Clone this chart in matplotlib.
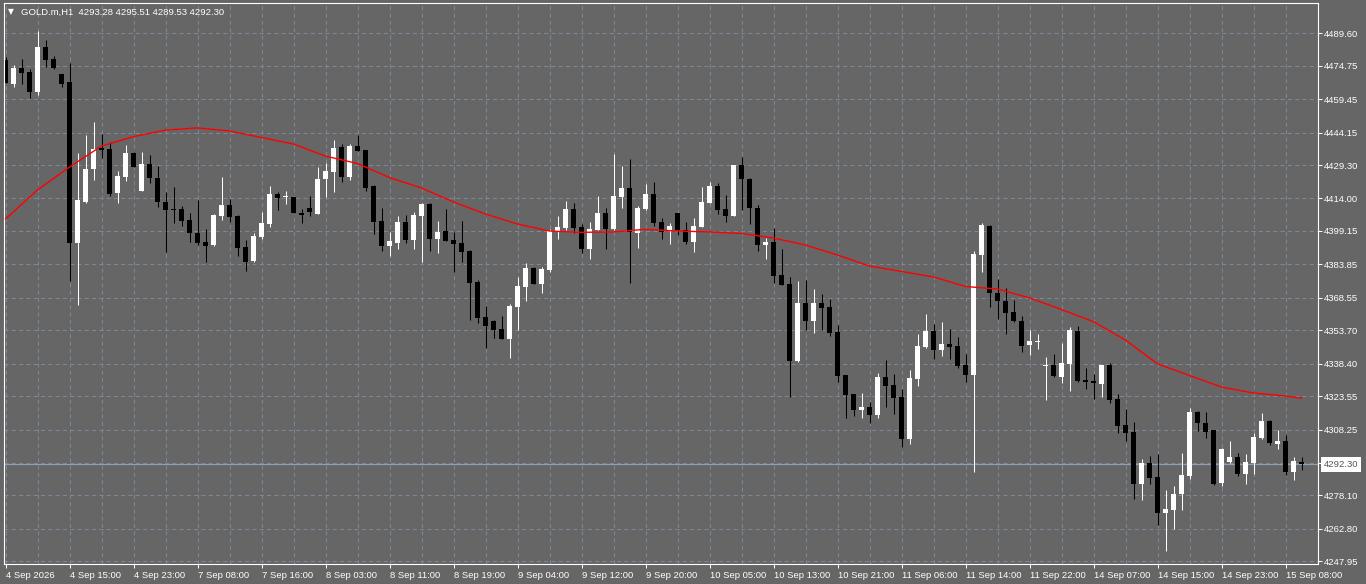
import matplotlib
matplotlib.use('Agg')
import matplotlib.pyplot as plt
import numpy as np

# GOLD.m H1 candles, 4 Sep 2026 07:00 .. 15 Sep 08:00
opens = [4477.4, 4466.4, 4473.9, 4472.0, 4462.7, 4483.2, 4477.8, 4471.0, 4467.5, 4393.8,
         4412.5, 4427.5, 4437.0, 4436.7, 4416.4, 4424.0, 4435.0, 4417.6, 4429.8, 4423.2,
         4412.5, 4409.2, 4409.2, 4404.2, 4398.3, 4394.2, 4392.6, 4406.0, 4411.0, 4406.0,
         4391.9, 4385.4, 4396.5, 4402.3, 4416.1, 4414.5, 4414.7, 4407.2, 4409.6, 4407.0,
         4422.9, 4426.3, 4437.6, 4424.0, 4438.0, 4436.2, 4419.9, 4403.7, 4392.4, 4393.8,
         4403.2, 4395.0, 4406.1, 4411.5, 4395.6, 4399.1, 4395.0, 4393.5, 4390.0, 4375.6,
         4359.8, 4357.9, 4354.1, 4349.7, 4364.5, 4373.6, 4382.3, 4374.9, 4381.3, 4398.5,
         4400.4, 4409.2, 4401.0, 4390.7, 4399.6, 4407.4, 4400.0, 4414.7, 4418.8, 4398.3,
         4409.2, 4416.1, 4403.1, 4399.1, 4407.4, 4399.6, 4394.2, 4400.8, 4412.1, 4419.9,
         4409.2, 4406.1, 4429.3, 4423.1, 4409.6, 4392.7, 4394.1, 4379.0, 4374.9, 4339.8,
         4366.0, 4357.9, 4366.0, 4364.2, 4352.8, 4333.2, 4324.5, 4317.2, 4318.4, 4314.9,
         4332.2, 4328.6, 4323.0, 4303.9, 4331.4, 4345.9, 4353.4, 4344.7, 4347.4, 4346.5,
         4337.8, 4333.2, 4388.1, 4401.4, 4370.6, 4367.1, 4361.9, 4357.9, 4346.9, 4348.2,
         4337.3, 4337.8, 4332.4, 4338.3, 4353.4, 4330.9, 4330.5, 4329.1, 4337.8, 4322.2,
         4310.3, 4307.0, 4283.3, 4293.1, 4286.5, 4270.2, 4271.4, 4278.8, 4287.0, 4316.4,
         4311.4, 4308.0, 4283.7, 4293.4, 4295.6, 4287.9, 4293.1, 4304.4, 4312.2, 4301.6,
         4303.0, 4288.8, 4293.28]
highs = [4478.8, 4475.1, 4477.8, 4473.1, 4490.7, 4486.5, 4479.2, 4471.0, 4475.9, 4434.7,
         4443.1, 4449.0, 4443.5, 4440.0, 4426.6, 4438.5, 4435.1, 4435.1, 4433.9, 4429.0,
         4416.8, 4419.4, 4410.6, 4407.5, 4413.3, 4399.9, 4406.8, 4424.0, 4413.8, 4406.4,
         4395.0, 4398.3, 4407.7, 4419.7, 4417.0, 4417.6, 4414.8, 4409.2, 4415.1, 4428.3,
         4430.1, 4440.8, 4439.1, 4438.8, 4443.2, 4436.2, 4420.2, 4409.8, 4398.7, 4406.0,
         4406.3, 4408.0, 4411.9, 4411.8, 4403.8, 4409.1, 4398.5, 4403.8, 4390.4, 4376.7,
         4364.8, 4358.4, 4360.2, 4365.7, 4378.2, 4384.3, 4382.8, 4382.8, 4399.9, 4406.0,
         4412.9, 4411.8, 4402.2, 4403.2, 4415.3, 4409.5, 4434.4, 4428.9, 4431.9, 4410.6,
         4420.6, 4421.5, 4405.2, 4402.6, 4407.4, 4403.4, 4405.1, 4419.4, 4421.4, 4421.2,
         4415.6, 4429.3, 4433.1, 4423.4, 4411.0, 4395.8, 4400.4, 4390.9, 4378.2, 4376.2,
         4376.7, 4372.6, 4370.3, 4367.9, 4356.1, 4333.2, 4324.5, 4324.8, 4320.7, 4334.3,
         4340.1, 4333.7, 4326.8, 4335.5, 4352.0, 4361.1, 4356.6, 4357.3, 4354.1, 4350.5,
         4342.8, 4390.0, 4402.9, 4401.9, 4377.2, 4373.2, 4367.5, 4360.0, 4353.8, 4352.0,
         4341.6, 4342.8, 4347.7, 4355.0, 4355.6, 4336.3, 4333.5, 4337.8, 4338.8, 4324.5,
         4317.7, 4311.8, 4294.8, 4296.1, 4297.1, 4280.6, 4282.4, 4297.7, 4318.0, 4316.7,
         4316.4, 4308.0, 4299.7, 4303.1, 4297.4, 4297.1, 4306.5, 4316.0, 4312.6, 4308.0,
         4305.8, 4295.6, 4295.51]
lows = [4466.9, 4465.2, 4466.4, 4460.1, 4461.4, 4474.3, 4473.3, 4465.2, 4376.4, 4365.3,
        4412.1, 4422.5, 4432.4, 4415.1, 4412.1, 4422.1, 4428.5, 4417.5, 4421.0, 4410.0,
        4389.6, 4402.9, 4401.4, 4394.2, 4392.7, 4385.1, 4392.3, 4404.2, 4403.4, 4387.8,
        4381.0, 4385.1, 4395.3, 4401.1, 4408.7, 4411.5, 4407.2, 4402.9, 4406.1, 4407.0,
        4414.8, 4417.1, 4421.4, 4422.5, 4435.9, 4417.6, 4397.8, 4390.1, 4387.8, 4390.7,
        4393.8, 4390.9, 4384.8, 4390.1, 4389.2, 4394.7, 4380.5, 4385.1, 4358.4, 4356.9,
        4345.7, 4350.0, 4349.7, 4341.1, 4353.8, 4367.1, 4374.9, 4370.6, 4380.5, 4395.3,
        4399.6, 4398.3, 4388.9, 4386.2, 4399.6, 4390.7, 4399.6, 4409.8, 4375.2, 4391.5,
        4408.7, 4401.4, 4395.5, 4393.2, 4397.3, 4393.2, 4389.6, 4400.8, 4412.1, 4406.8,
        4403.4, 4406.1, 4408.7, 4402.2, 4390.0, 4386.4, 4375.3, 4374.4, 4323.0, 4339.0,
        4353.8, 4352.6, 4353.8, 4351.2, 4329.9, 4313.7, 4314.6, 4313.7, 4311.4, 4313.4,
        4318.7, 4315.4, 4300.4, 4301.6, 4328.2, 4345.4, 4340.5, 4342.1, 4340.5, 4336.6,
        4329.9, 4289.0, 4380.5, 4364.5, 4358.8, 4351.8, 4357.6, 4343.9, 4342.4, 4345.3,
        4321.8, 4332.2, 4329.7, 4326.0, 4330.2, 4326.8, 4322.2, 4323.3, 4320.5, 4306.8,
        4303.1, 4276.5, 4276.0, 4283.3, 4264.6, 4252.8, 4262.7, 4271.4, 4285.5, 4307.6,
        4304.5, 4282.9, 4282.4, 4292.8, 4287.0, 4283.3, 4287.9, 4303.8, 4301.2, 4299.2,
        4287.5, 4285.2, 4289.53]
closes = [4467.0, 4473.6, 4471.6, 4462.9, 4483.2, 4477.4, 4473.9, 4466.4, 4393.8, 4413.3,
          4427.5, 4436.7, 4436.2, 4415.9, 4424.4, 4434.7, 4428.6, 4429.8, 4423.2, 4412.5,
          4408.7, 4408.7, 4403.8, 4398.1, 4393.8, 4392.4, 4406.4, 4411.0, 4405.7, 4391.5,
          4385.1, 4396.8, 4402.6, 4416.1, 4414.4, 4414.8, 4407.2, 4406.3, 4407.7, 4422.9,
          4426.6, 4437.2, 4424.0, 4438.2, 4435.9, 4418.9, 4403.4, 4392.4, 4394.5, 4403.2,
          4395.0, 4406.4, 4411.5, 4395.6, 4398.7, 4394.7, 4393.2, 4389.6, 4375.5, 4359.4,
          4355.8, 4353.8, 4349.7, 4364.8, 4374.1, 4382.3, 4374.9, 4381.7, 4399.1, 4401.0,
          4409.2, 4400.6, 4390.7, 4400.0, 4407.4, 4400.0, 4415.1, 4418.7, 4398.5, 4409.6,
          4416.1, 4402.9, 4398.5, 4401.3, 4399.6, 4394.2, 4401.4, 4412.4, 4419.9, 4408.9,
          4406.1, 4429.3, 4423.1, 4409.8, 4392.7, 4394.2, 4378.5, 4374.4, 4339.8, 4366.0,
          4357.9, 4366.0, 4364.0, 4352.6, 4332.8, 4324.1, 4317.2, 4318.4, 4314.9, 4332.2,
          4328.2, 4322.7, 4303.9, 4331.7, 4346.5, 4353.4, 4344.7, 4347.4, 4346.2, 4337.3,
          4333.2, 4388.6, 4401.9, 4370.9, 4367.2, 4361.7, 4357.9, 4346.5, 4348.8, 4348.5,
          4337.8, 4332.9, 4338.6, 4353.8, 4330.5, 4330.2, 4329.4, 4337.8, 4321.8, 4310.0,
          4306.8, 4283.3, 4293.1, 4286.2, 4270.2, 4271.9, 4278.8, 4287.5, 4316.1, 4311.1,
          4307.3, 4283.3, 4299.4, 4295.6, 4287.9, 4293.3, 4304.7, 4312.2, 4302.2, 4303.0,
          4289.0, 4293.7, 4292.30]

# moving average (red line), sampled every 4 bars
ma_idx = list(range(0, 161, 4)) + [162]
ma_val = [4404.6, 4417.9, 4428.4, 4438.0, 4442.3, 4445.3, 4446.3, 4444.9, 4441.9, 4438.9,
          4433.4, 4430.0, 4423.6, 4418.8, 4412.4, 4406.9, 4402.3, 4399.1, 4398.5, 4398.7,
          4399.9, 4399.1, 4398.7, 4398.0, 4395.9, 4392.7, 4388.1, 4383.1, 4380.6, 4378.1,
          4373.7, 4372.6, 4368.5, 4363.2, 4357.6, 4349.2, 4338.3, 4333.0, 4327.7, 4325.0,
          4323.6, 4322.6]

time_labels = ['4 Sep 2026', '4 Sep 15:00', '4 Sep 23:00', '7 Sep 08:00', '7 Sep 16:00',
               '8 Sep 03:00', '8 Sep 11:00', '8 Sep 19:00', '9 Sep 04:00', '9 Sep 12:00',
               '9 Sep 20:00', '10 Sep 05:00', '10 Sep 13:00', '10 Sep 21:00', '11 Sep 06:00',
               '11 Sep 14:00', '11 Sep 22:00', '14 Sep 07:00', '14 Sep 15:00', '14 Sep 23:00',
               '15 Sep 08:00']
price_ticks = [4489.60, 4474.75, 4459.45, 4444.15, 4429.30, 4414.00, 4399.15, 4383.85,
               4368.55, 4353.70, 4338.40, 4323.55, 4308.25, 4293.10, 4278.10, 4262.80, 4247.95]
symbol = 'GOLD.m,H1'

BG = '#666666'
GRID = '#7b8899'
W, H = 1366, 584

plt.rcParams['font.family'] = ['Liberation Sans', 'DejaVu Sans']

fig = plt.figure(figsize=(W / 100, H / 100), dpi=100, facecolor=BG)
ax = fig.add_axes([4 / W, 20 / H, 1314 / W, 561 / H])
ax.set_facecolor(BG)

o = np.array(opens)
c = np.array(closes)
x = np.arange(len(o))
up = c >= o
cols = np.where(up, 'white', 'black')

# wicks, then bodies (5 px wide, at least 1 px tall)
ax.vlines(x, lows, highs, colors=cols, lw=0.75, zorder=2)
ax.bar(x, np.maximum(np.abs(c - o), 0.5), bottom=np.minimum(o, c), width=0.66,
       color=cols, linewidth=0, zorder=2)
ax.plot(ma_idx, ma_val, color='#ff0000', lw=1.0, zorder=3)

last = closes[-1]
ax.axhline(last, color='#8ea1b8', lw=0.8, zorder=1)

ax.set_xlim(-0.1875, 164.0625)
ax.set_ylim(4246.71, 4503.47)

# axes / ticks
ax.yaxis.tick_right()
ax.set_yticks(price_ticks)
ax.set_yticklabels([f'{v:.2f}' if abs(v - last) > 5 else '' for v in price_ticks])
ax.set_xticks(np.arange(0, 161, 8))
ax.set_xticklabels(time_labels, ha='left')
ax.set_xticks(np.arange(0, 161, 4), minor=True)
ax.tick_params(axis='both', which='major', direction='out', length=3, width=0.75,
               colors='white', labelsize=6.8)
ax.tick_params(axis='x', which='major', pad=2)
ax.tick_params(axis='y', which='major', pad=1.5)
ax.tick_params(which='minor', length=0)

ax.set_axisbelow(True)
ax.grid(which='both', axis='x', color=GRID, lw=0.75, linestyle=(0, (4, 3)))
ax.grid(which='major', axis='y', color=GRID, lw=0.75, linestyle=(0, (4, 3)))

for s in ax.spines.values():
    s.set_color('white')
    s.set_linewidth(0.8)

# current price box on the price scale
ax.text(1.0045, last, f'{last:.2f}', transform=ax.get_yaxis_transform(), ha='left',
        va='center', fontsize=6.8, color='#555555', clip_on=False,
        bbox=dict(boxstyle='square,pad=0.3', fc='white', ec='none'))

# header
fig.text(8 / W, 1 - 11.8 / H, '\u25bc', fontsize=5.5, color='white', family='DejaVu Sans',
         va='center', ha='left')
fig.text(21 / W, 1 - 15 / H,
         f'{symbol}  {opens[-1]:.2f} {highs[-1]:.2f} {lows[-1]:.2f} {closes[-1]:.2f}',
         fontsize=6.8, color='white', va='baseline', ha='left')

fig.savefig('out.png', dpi=100, facecolor=BG)
